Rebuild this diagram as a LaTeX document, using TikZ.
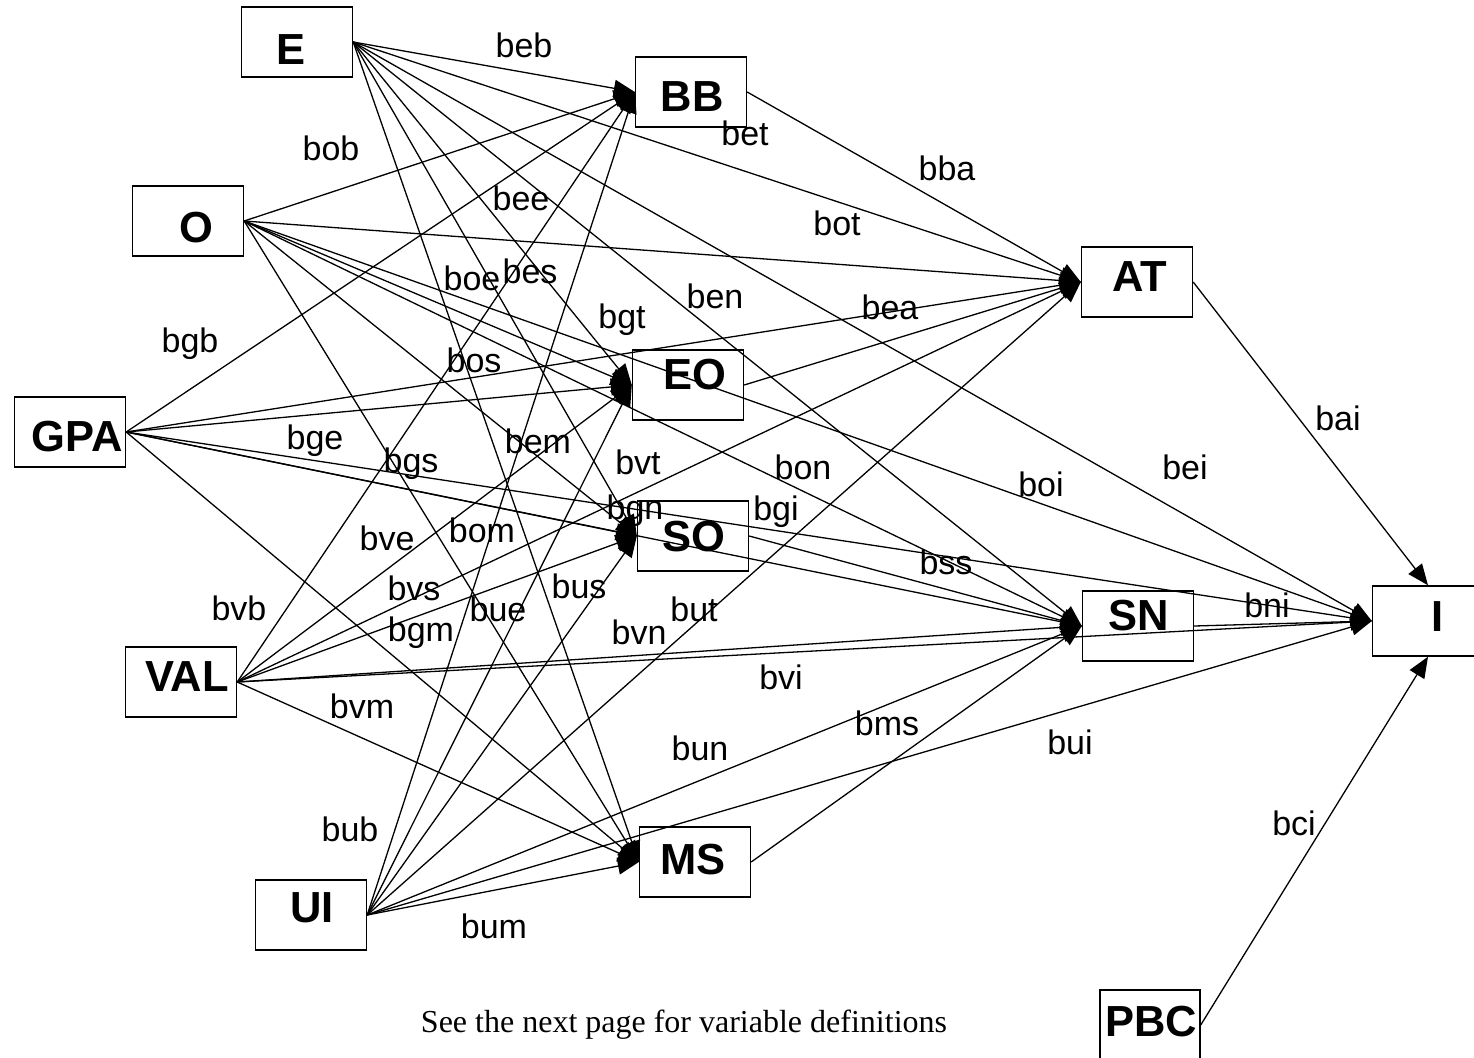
\documentclass[tikz,border=0pt]{standalone}
\usepackage{fontspec}
\setmainfont{Liberation Sans}
\newfontfamily\notefont{Liberation Serif}
\usetikzlibrary{arrows.meta}
\begin{document}
\begin{tikzpicture}[x=1pt,y=-1pt,
  var/.style={draw, line width=1.4pt, minimum width=111pt, minimum height=70pt,
    inner sep=0pt},
  vname/.style={inner sep=0pt, font=\fontsize{43.5}{43.5}\selectfont\bfseries},
  coef/.style={font=\fontsize{34}{34}\selectfont, inner sep=0pt},
  link/.style={line width=1.3pt, -{Triangle[length=21pt,width=17pt]}},
]
\useasboundingbox (0,0) rectangle (1474,1057);

% exogenous variables
\node[var] (E)   at (297,42)  {};
\node[var] (O)   at (188,221) {};
\node[var] (GPA) at (70,432)  {};
\node[var] (VAL) at (181,682) {};
\node[var] (UI)  at (311,915) {};
% belief variables
\node[var] (BB) at (691,92)  {};
\node[var] (EO) at (688,385) {};
\node[var] (SO) at (693,536) {};
\node[var] (MS) at (695,862) {};
% attitude, norm, intention, control
\node[var] (AT)  at (1137,282)  {};
\node[var] (SN)  at (1138,626)  {};
\node[var] (I)   at (1428,621)  {};
\node[var, minimum width=100pt] (PBC) at (1150,1025) {};

% variable names, set a little off the box centres
\node[vname] (E-name)   at (291,50)   {E};
\node[vname] (O-name)   at (196,228)  {O};
\node[vname] (GPA-name) at (77,437)   {GPA};
\node[vname] (VAL-name) at (187,677)  {VAL};
\node[vname] (UI-name)  at (312,908)  {UI};
\node[vname] (BB-name)  at (692,97)   {BB};
\node[vname] (EO-name)  at (695,375)  {EO};
\node[vname] (SO-name)  at (694,537)  {SO};
\node[vname] (MS-name)  at (693,860)  {MS};
\node[vname] (AT-name)  at (1140,277) {AT};
\node[vname] (SN-name)  at (1139,616) {SN};
\node[vname] (I-name)   at (1438,617) {I};
\node[vname] (PBC-name) at (1151,1022) {PBC};

% every exogenous variable points to every later variable
\foreach \s in {E,O,GPA,VAL,UI}
  \foreach \t in {BB,EO,SO,MS,AT,SN,I}
    \draw[link] (\s.east) -- (\t.west);

\draw[link] (BB.east) -- (AT.west);
\draw[link] (EO.east) -- (AT.west);
\draw[link] (SO.east) -- (SN.west);
\draw[link] (MS.east) -- (SN.west);
\draw[link] (SN.east) -- (I.west);
\draw[link] (AT.east) -- (I.north);
\draw[link] (PBC.east) -- (I.south);

% path coefficients
\foreach \x/\y/\c in {
  524/45/beb, 331/148/bob, 745/133/bet, 947/168/bba, 521/198/bee,
  837/223/bot, 472/278/boe, 530/271/bes, 715/296/ben, 622/320/bgt,
  890/307/bea, 190/344/bgb, 474/360/bos, 1338/418/bai, 315/441/bge,
  538/441/bem, 411/464/bgs, 638/462/bvt, 803/467/bon, 1185/467/bei,
  1041/484/boi, 635/511/bgn, 776/512/bgi, 387/538/bve, 482/530/bom,
  946/562/bss, 414/588/bvs, 579/586/bus, 239/608/bvb, 498/609/bue,
  694/609/but, 1267/605/bni, 639/632/bvn, 421/633/bgm, 781/677/bvi,
  362/706/bvm, 887/723/bms, 700/748/bun, 1070/742/bui, 1294/823/bci,
  350/829/bub, 494/926/bum}
  \node[coef] (l\c) at (\x,\y) {\c};

\node[font=\notefont\fontsize{32}{32}\selectfont, inner sep=0pt] (note)
  at (684,1025) {See the next page for variable definitions};
\end{tikzpicture}
\end{document}
